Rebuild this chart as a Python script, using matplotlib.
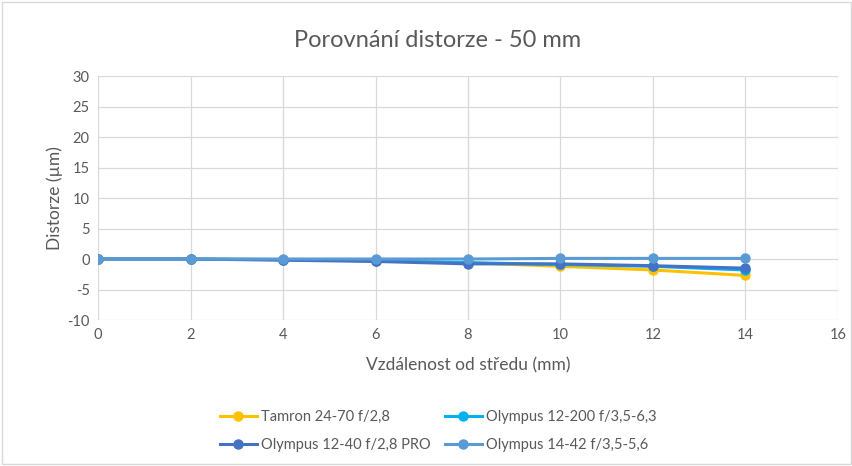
import matplotlib
matplotlib.use("Agg")
import matplotlib.pyplot as plt

plt.rcParams["font.family"] = ["Lato", "DejaVu Sans"]
plt.rcParams["axes.unicode_minus"] = False

# vzdálenost od středu (mm)
distance = [0, 2, 4, 6, 8, 10, 12, 14]

# distorze (µm)
tamron_24_70 = [0, 0, -0.1, -0.3, -0.6, -1.2, -1.8, -2.7]
olympus_12_200 = [0, 0, -0.1, -0.3, -0.6, -0.9, -1.2, -1.8]
olympus_12_40 = [0, 0, -0.2, -0.4, -0.8, -0.8, -1.1, -1.5]
olympus_14_42 = [0, 0, 0, 0, 0, 0.1, 0.1, 0.1]

series = [
    ("Tamron 24-70 f/2,8", tamron_24_70, "#FFC000"),
    ("Olympus 12-200 f/3,5-6,3", olympus_12_200, "#00B0F0"),
    ("Olympus 12-40 f/2,8 PRO", olympus_12_40, "#4472C4"),
    ("Olympus 14-42 f/3,5-5,6", olympus_14_42, "#5B9BD5"),
]

txt = "#595959"
fig = plt.figure(figsize=(8.53, 4.66), dpi=100)
ax = fig.add_axes([0.1149, 0.3133, 0.8675, 0.5236])

lines = []
for label, vals, col in series:
    ln, = ax.plot(distance, vals, color=col, lw=2.2, marker="o", ms=6.5, label=label)
    lines.append(ln)

ax.set_xlim(0, 16)
ax.set_ylim(-10, 30)
ax.set_xticks(range(0, 17, 2))
ax.set_yticks(range(-10, 31, 5))
ax.grid(True, color="#D9D9D9", lw=0.9)
ax.set_axisbelow(True)
for s in ax.spines.values():
    s.set_visible(False)
ax.tick_params(length=0, colors=txt, labelsize=10.5, pad=6)

# nadpis je v Excelu centrovaný na celý graf, ne na osy
fig.text(0.513, 0.914, "Porovnání distorze - 50 mm", color=txt, fontsize=17,
         ha="center", va="center")
ax.set_xlabel("Vzdálenost od středu (mm)", color=txt, fontsize=12.5, labelpad=11)
ax.set_ylabel("Distorze (µm)", color=txt, fontsize=12.5, labelpad=3)

# legenda po řádcích jako v Excelu
order = [0, 2, 1, 3]
ax.legend([lines[i] for i in order], [series[i][0] for i in order],
          loc="upper center", bbox_to_anchor=(0.46, -0.315), ncol=2, frameon=False,
          fontsize=10.5, labelcolor=txt, handlelength=2.5, columnspacing=1.0,
          handletextpad=0.3, labelspacing=0.95)

fig.patches.append(plt.Rectangle((0.002, 0.004), 0.996, 0.992, transform=fig.transFigure,
                                 fill=False, edgecolor="#D9D9D9", lw=1))

fig.savefig("out.png", dpi=100)
